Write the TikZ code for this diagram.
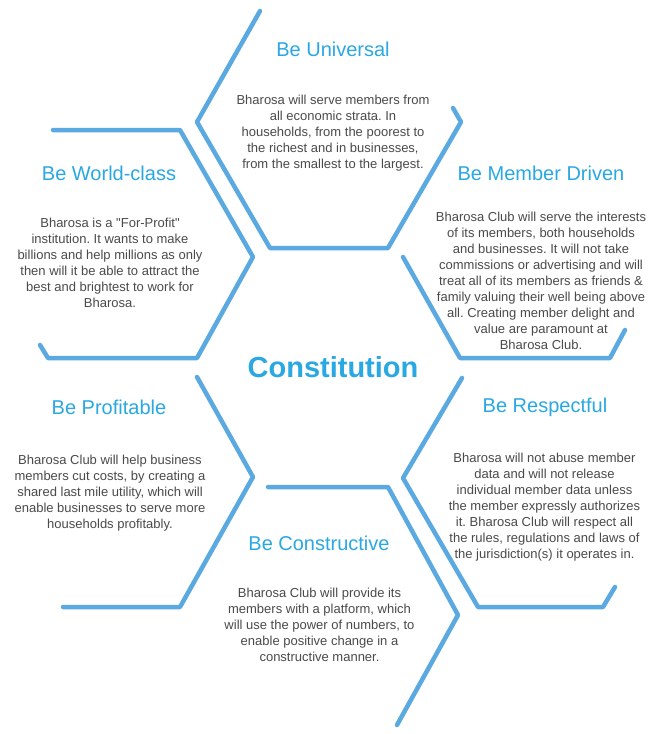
\documentclass[tikz,border=0pt]{standalone}
\usepackage{fontspec}
\setmainfont{Liberation Sans}
\frenchspacing
\definecolor{hexline}{HTML}{5AA9E1}
\definecolor{headblue}{HTML}{2AA8E2}
\definecolor{bodygray}{HTML}{4A4A4A}
\begin{document}
\begin{tikzpicture}[x=1pt,y=-1pt,
  hexedge/.style={draw=hexline,line width=4.5pt,line cap=round,line join=round},
  heading/.style={text=headblue,font=\fontsize{20}{24}\selectfont,inner sep=0pt},
  bodytext/.style={text=bodygray,font=\fontsize{13}{16}\selectfont\frenchspacing,align=center,inner sep=0pt},
  titletext/.style={text=headblue,font=\fontsize{29}{34}\selectfont\bfseries,inner sep=0pt}
]
\useasboundingbox[fill=white] (0,0) rectangle (650,734);

% hexagon edges
\draw[hexedge] (260,11) -- (197,122) -- (270,248) -- (388,248) -- (461,122) -- (453,108);
\draw[hexedge] (53,130) -- (180,130) -- (253,257) -- (197,358) -- (48,358) -- (40,345);
\draw[hexedge] (403,257) -- (460,358) -- (610,358) -- (625,330);
\draw[hexedge] (197,377) -- (253,477) -- (180,607) -- (63,607);
\draw[hexedge] (462,378) -- (403,478) -- (478,607) -- (603,607) -- (615,587);
\draw[hexedge] (268,487) -- (388,487) -- (458,615) -- (397,725);

% title
\node[titletext] (title) at (333,367.5) {Constitution};

% Be Universal
\node[heading] (univH) at (333,49) {Be Universal};
\node[bodytext] (univB) at (333,133) {Bharosa will serve members from\\all economic strata. In\\households, from the poorest to\\the richest and in businesses,\\from the smallest to the largest.};

% Be World-class
\node[heading] (worldH) at (109,173) {Be World-class};
\node[bodytext] (worldB) at (110,262.5) {Bharosa is a \textquotedbl For-Profit\textquotedbl\\institution. It wants to make\\billions and help millions as only\\then will it be able to attract the\\best and brightest to work for\\Bharosa.};

% Be Member Driven
\node[heading] (membH) at (541,173) {Be Member Driven};
\node[bodytext] (membB) at (541,281) {Bharosa Club will serve the interests\\of its members, both households\\and businesses. It will not take\\commissions or advertising and will\\treat all of its members as friends \&\\family valuing their well being above\\all. Creating member delight and\\value are paramount at\\Bharosa Club.};

% Be Profitable
\node[heading] (profH) at (109,407) {Be Profitable};
\node[bodytext] (profB) at (110,493) {Bharosa Club will help business\\members cut costs, by creating a\\shared last mile utility, which will\\enable businesses to serve more\\households profitably.};

% Be Respectful
\node[heading] (respH) at (545,407.5) {Be Respectful};
\node[bodytext] (respB) at (544.5,507) {Bharosa will not abuse member\\data and will not release\\individual member data unless\\the member expressly authorizes\\it. Bharosa Club will respect all\\the rules, regulations and laws of\\the jurisdiction(s) it operates in.};

% Be Constructive
\node[heading] (consH) at (319,543) {Be Constructive};
\node[bodytext] (consB) at (319.5,625) {Bharosa Club will provide its\\members with a platform, which\\will use the power of numbers, to\\enable positive change in a\\constructive manner.};
\end{tikzpicture}
\end{document}
